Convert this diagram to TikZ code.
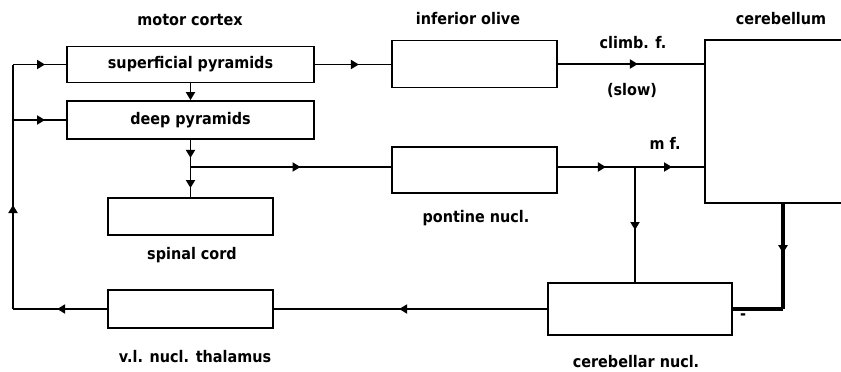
\documentclass[tikz,border=0pt]{standalone}
\usepackage{fontspec}
\setmainfont{DejaVu Sans}[FakeStretch=0.9]
\usetikzlibrary{arrows.meta,decorations.markings,calc}
\tikzset{
  box/.style={draw, line width=1.8pt, inner sep=0pt},
  lbl/.style={inner sep=0pt},
  conn/.style={line width=1.8pt},
  thick conn/.style={line width=3.6pt},
  ar/.style={postaction={decorate}, decoration={markings,
     mark=at position #1 with {\arrow{Triangle[length=8pt,width=9pt]}}}},
}
\begin{document}
\begin{tikzpicture}[x=1pt,y=-1pt, font=\bfseries\fontsize{16}{18}\selectfont]
\useasboundingbox (0,0) rectangle (841,372);
% boxes
\node[box, minimum width=247pt, minimum height=36pt] (sp) at (190.5,64.5) {superficial pyramids};
\node[box, minimum width=247pt, minimum height=38pt] (dp) at (190.5,120) {deep pyramids};
\node[box, minimum width=165pt, minimum height=37pt] (sc) at (190.5,216.5) {};
\node[box, minimum width=165pt, minimum height=38pt] (th) at (190.5,309) {};
\node[box, minimum width=165pt, minimum height=47pt] (io) at (474.5,64) {};
\node[box, minimum width=165pt, minimum height=46pt] (pn) at (474.5,170) {};
\node[box, minimum width=184pt, minimum height=52pt] (cn) at (640,309) {};
\node[draw=none, minimum width=136pt, minimum height=163pt, inner sep=0pt] (cb) at (773,121.5) {};
\draw[line width=1.8pt] (cb.north east) -- (cb.north west) -- (cb.south west) -- (cb.south east);
% labels
\node[lbl] (lmc) at (190,20) {motor cortex};
\node[lbl] (lio) at (468,19) {inferior olive};
\node[lbl] (lcb) at (781,19) {cerebellum};
\node[lbl] (lcf) at (633,43) {climb. f.};
\node[lbl] (lsl) at (632,90) {(slow)};
\node[lbl] (lmf) at (665,143) {m f.};
\node[lbl] (lpn) at (476,218) {pontine nucl.};
\node[lbl] (lsc) at (192,255) {spinal cord};
\node[lbl] (lth) at (195,357) {v.l. nucl. thalamus};
\node[lbl] (lcn) at (636,362) {cerebellar nucl.};
\node[lbl] (lminus) at (743,317) {-};
% junctions
\coordinate (L1) at (13,309);
\coordinate (L2) at (13,64.5);
\coordinate (L3) at (13,120);
\coordinate (J1) at (190.5,167);
\coordinate (J2) at (635,167);
\coordinate (K) at (783,309);
% connectors
\draw[conn, ar=50pt] (th.west) -- (L1);
\draw[conn, ar=104pt] (L1) -- (L2);
\draw[conn, ar=32pt] (L2) -- (sp.west);
\draw[conn, ar=32pt] (L3) -- (dp.west);
\draw[conn, -{Triangle[length=8pt,width=9pt]}] (sp.south) -- (dp.north);
\draw[conn, ar=18pt] (dp.south) -- (J1);
\draw[conn, ar=21pt] (J1) -- (sc.north);
\draw[conn, ar=110pt] (J1) -- (J1 -| pn.west);
\draw[conn, ar=44pt] (sp.east) -- (sp.east -| io.west);
\draw[conn, ar=80pt] (io.east) -- (io.east -| cb.west);
\draw[conn, ar=48pt] (J1 -| pn.east) -- (J2);
\draw[conn, ar=37pt] (J2) -- (J2 -| cb.west);
\draw[conn, ar=63pt] (J2) -- (J2 |- cn.north);
\draw[thick conn, ar=50pt] (K |- cb.south) -- (K);
\draw[thick conn] (K) -- (cn.east);
\draw[conn, ar=148pt] (cn.west) -- (th.east);
\end{tikzpicture}
\end{document}
